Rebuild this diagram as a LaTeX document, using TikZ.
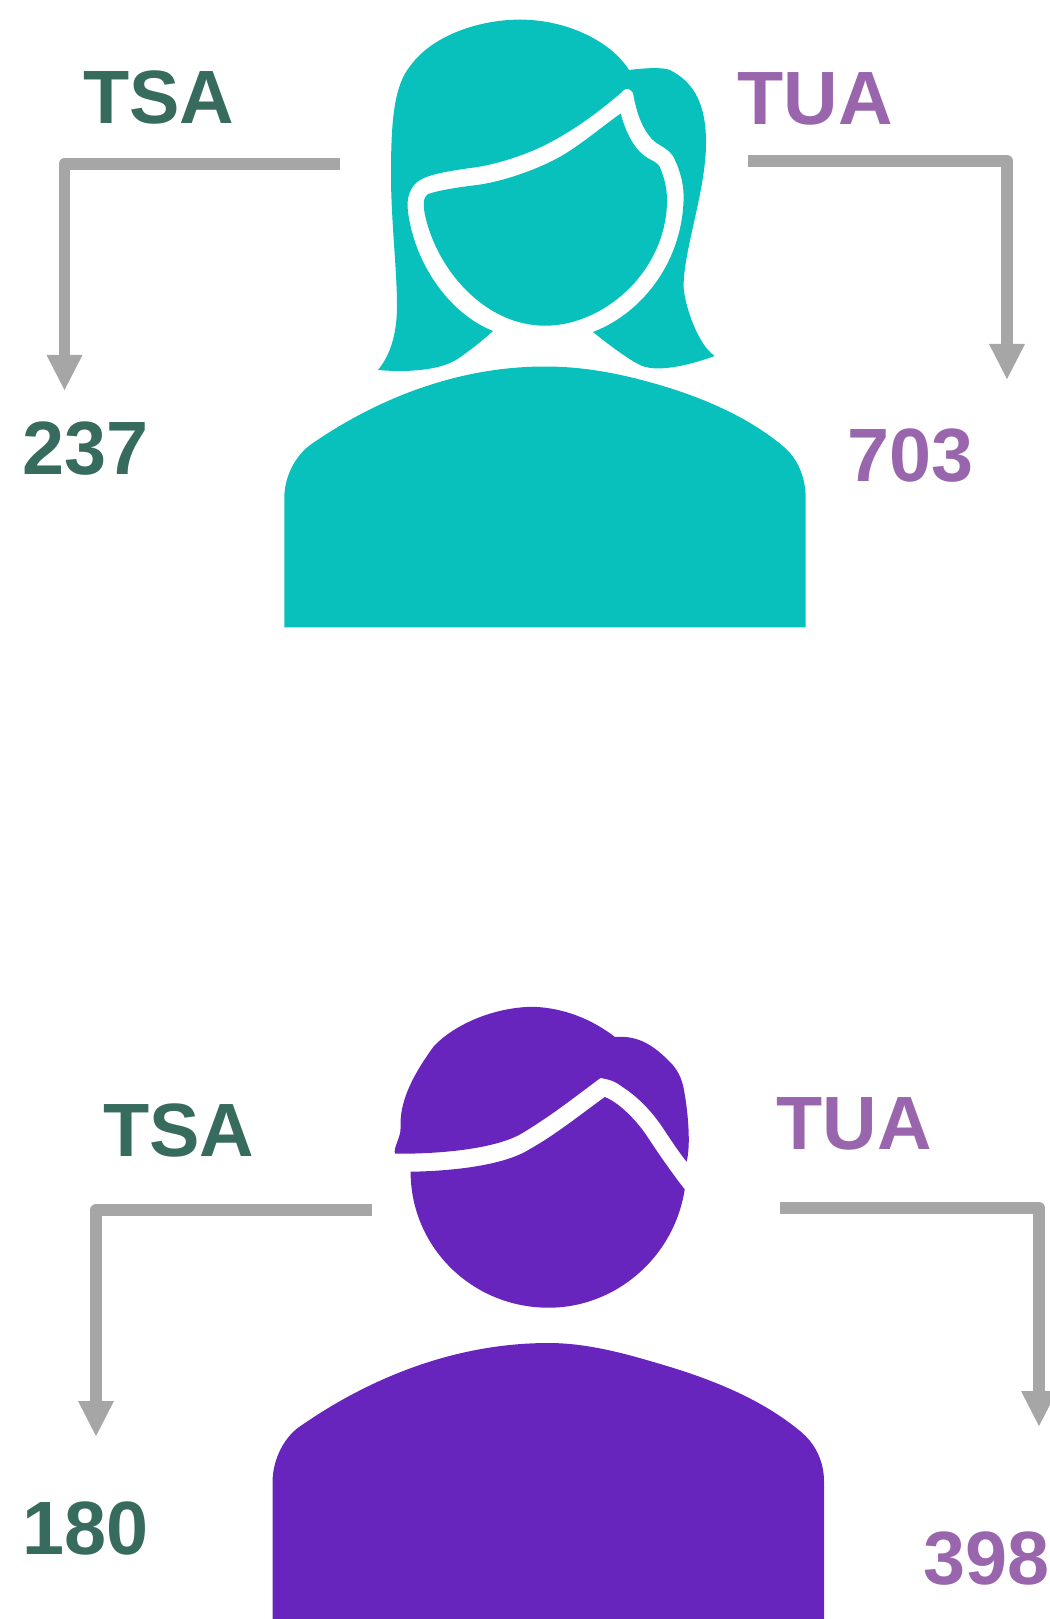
\documentclass[tikz,border=0pt]{standalone}
\usepackage{fontspec}
\usepackage{xcolor}
\usetikzlibrary{positioning, arrows.meta}
\setmainfont{Liberation Sans}
\definecolor{tsagreen}{RGB}{54,107,94}
\definecolor{tuapurple}{RGB}{153,102,173}
\definecolor{elbowgray}{RGB}{166,166,166}
\definecolor{womanteal}{RGB}{8,192,188}
\definecolor{manviolet}{RGB}{104,37,190}

\begin{document}
\begin{tikzpicture}[
  x=0.02cm, y=-0.02cm,
  lab/.style={anchor=base west, inner sep=0pt, font=\fontsize{43pt}{43pt}\selectfont\bfseries},
  tsa/.style={lab, tsagreen},
  tua/.style={lab, tuapurple},
  arr/.style={-{Triangle[length=20.5pt, width=18.8pt]}, line width=6.8pt, line join=round, elbowgray}
]
\useasboundingbox (0,0) rectangle (1050,1619);

% woman
\fill[womanteal] (284.3,627.3) -- (284.3,498)
  .. controls (284.3,476) and (296,454) .. (313,443)
  .. controls (380,397) and (460,366.5) .. (545,366.5)
  .. controls (585,366.5) and (623,374) .. (663,386)
  .. controls (705,398.6) and (750,418) .. (784,447)
  .. controls (798,459) and (805.7,478) .. (805.7,498)
  -- (805.7,627.3) -- cycle;
\fill[womanteal] (378,370)
  .. controls (392,353) and (397,330) .. (397,306)
  .. controls (397,270) and (391,220) .. (391,175)
  .. controls (391,120) and (394,85) .. (411,65)
  .. controls (433,35) and (480,19.6) .. (520,19.6)
  .. controls (565,19.6) and (610,40) .. (629,70)
  .. controls (645,68) and (662,67) .. (670,70)
  .. controls (695,83) and (706,105) .. (706,143)
  .. controls (706,190) and (683.6,250) .. (683.6,286)
  .. controls (683.6,300) and (696,343) .. (714.6,356)
  .. controls (690,365) and (655,374) .. (638,364)
  .. controls (630,360) and (610,346) .. (593,332)
  .. controls (645,312) and (683.6,258) .. (683.6,196)
  .. controls (683.6,182) and (679,168) .. (673.6,157)
  .. controls (667,146) and (656,146) .. (648.6,135)
  .. controls (641,125) and (636,110) .. (633.6,96)
  .. controls (633,89) and (626,86) .. (622,92)
  .. controls (595,115) and (570,133) .. (541,147)
  .. controls (520,157) and (490,166) .. (470,168)
  .. controls (450,171) and (430,174) .. (420,180)
  .. controls (410,186) and (406,198) .. (408,212)
  .. controls (415,265) and (450,314) .. (493,331)
  .. controls (482,341) and (468,352) .. (456,360)
  .. controls (435,372) and (400,372) .. (378,370) -- cycle;
\fill[womanteal] (620.7,113.5)
  .. controls (625,130) and (632,144) .. (640,152)
  .. controls (650,162) and (658,160) .. (661,170)
  .. controls (665,180) and (667,190) .. (667,200)
  .. controls (667,270) and (605,325.7) .. (545,325.7)
  .. controls (485,325.7) and (437,270) .. (425,215)
  .. controls (423,205) and (423,197) .. (428,194)
  .. controls (440,190) and (460,187) .. (477,185)
  .. controls (500,182) and (530,172) .. (552,161)
  .. controls (575,150) and (600,128) .. (620.7,113.5) -- cycle;

% man
\fill[manviolet] (272.6,1619) -- (272.6,1481.4)
  .. controls (272.6,1460) and (284,1436) .. (302,1425)
  .. controls (370,1378) and (455,1343) .. (548.6,1343)
  .. controls (590,1343) and (630,1355) .. (667,1366)
  .. controls (720,1382) and (765,1402) .. (800,1431)
  .. controls (815,1443) and (824,1461) .. (824,1481.4)
  -- (824,1619) -- cycle;
\fill[manviolet] (395,1153.7)
  .. controls (393,1148) and (400.6,1138) .. (400.6,1128)
  .. controls (399,1100) and (415,1072) .. (434,1046)
  .. controls (455,1024) and (495,1006.8) .. (533.8,1006.8)
  .. controls (565,1008) and (593,1020) .. (615,1037)
  .. controls (640,1035) and (655,1047) .. (670,1062)
  .. controls (678,1070) and (682,1079) .. (684,1090)
  .. controls (688,1112) and (691,1145) .. (686.6,1161.7)
  .. controls (675,1147) and (668,1135) .. (659.5,1123)
  .. controls (648,1107) and (635,1095) .. (622.6,1087)
  .. controls (615,1081) and (608,1079) .. (600.4,1078)
  .. controls (580,1093) and (550,1117) .. (519,1135)
  .. controls (490,1150) and (435,1154) .. (395,1153.7) -- cycle;
\fill[manviolet] (410.6,1171.7)
  .. controls (455,1171) and (505,1165) .. (530,1149)
  .. controls (555,1135) and (580,1115) .. (604.8,1097)
  .. controls (620,1103) and (638,1122) .. (648.5,1138.4)
  .. controls (660,1156) and (672,1173) .. (684.7,1189.4)
  .. controls (674,1258) and (615,1307.7) .. (548.6,1307.7)
  .. controls (472,1307.7) and (410.6,1247) .. (410.6,1171.7) -- cycle;

% labels
\node[tsa] (tsaW) at (83,123) {TSA};
\node[tua] (tuaW) at (737,124.5) {TUA};
\node[tsa] (numTsaW) at (22,474) {237};
\node[tua] (numTuaW) at (847,481) {703};
\node[tsa] (tsaM) at (103,1156) {TSA};
\node[tua] (tuaM) at (776,1149) {TUA};
\node[tsa] (numTsaM) at (22,1554) {180};
\node[tua] (numTuaM) at (923,1584) {398};

% elbows
\coordinate (tsaWin) at (340,164);
\coordinate (tsaWout) at (64.5,391);
\coordinate (tuaWin) at (747.5,161);
\coordinate (tuaWout) at (1007,380);
\coordinate (tsaMin) at (372,1210);
\coordinate (tsaMout) at (96,1437);
\coordinate (tuaMin) at (780,1208);
\coordinate (tuaMout) at (1039,1427);

\draw[arr] (tsaWin) -| (tsaWout);
\draw[arr] (tuaWin) -| (tuaWout);
\draw[arr] (tsaMin) -| (tsaMout);
\draw[arr] (tuaMin) -| (tuaMout);

\end{tikzpicture}
\end{document}
